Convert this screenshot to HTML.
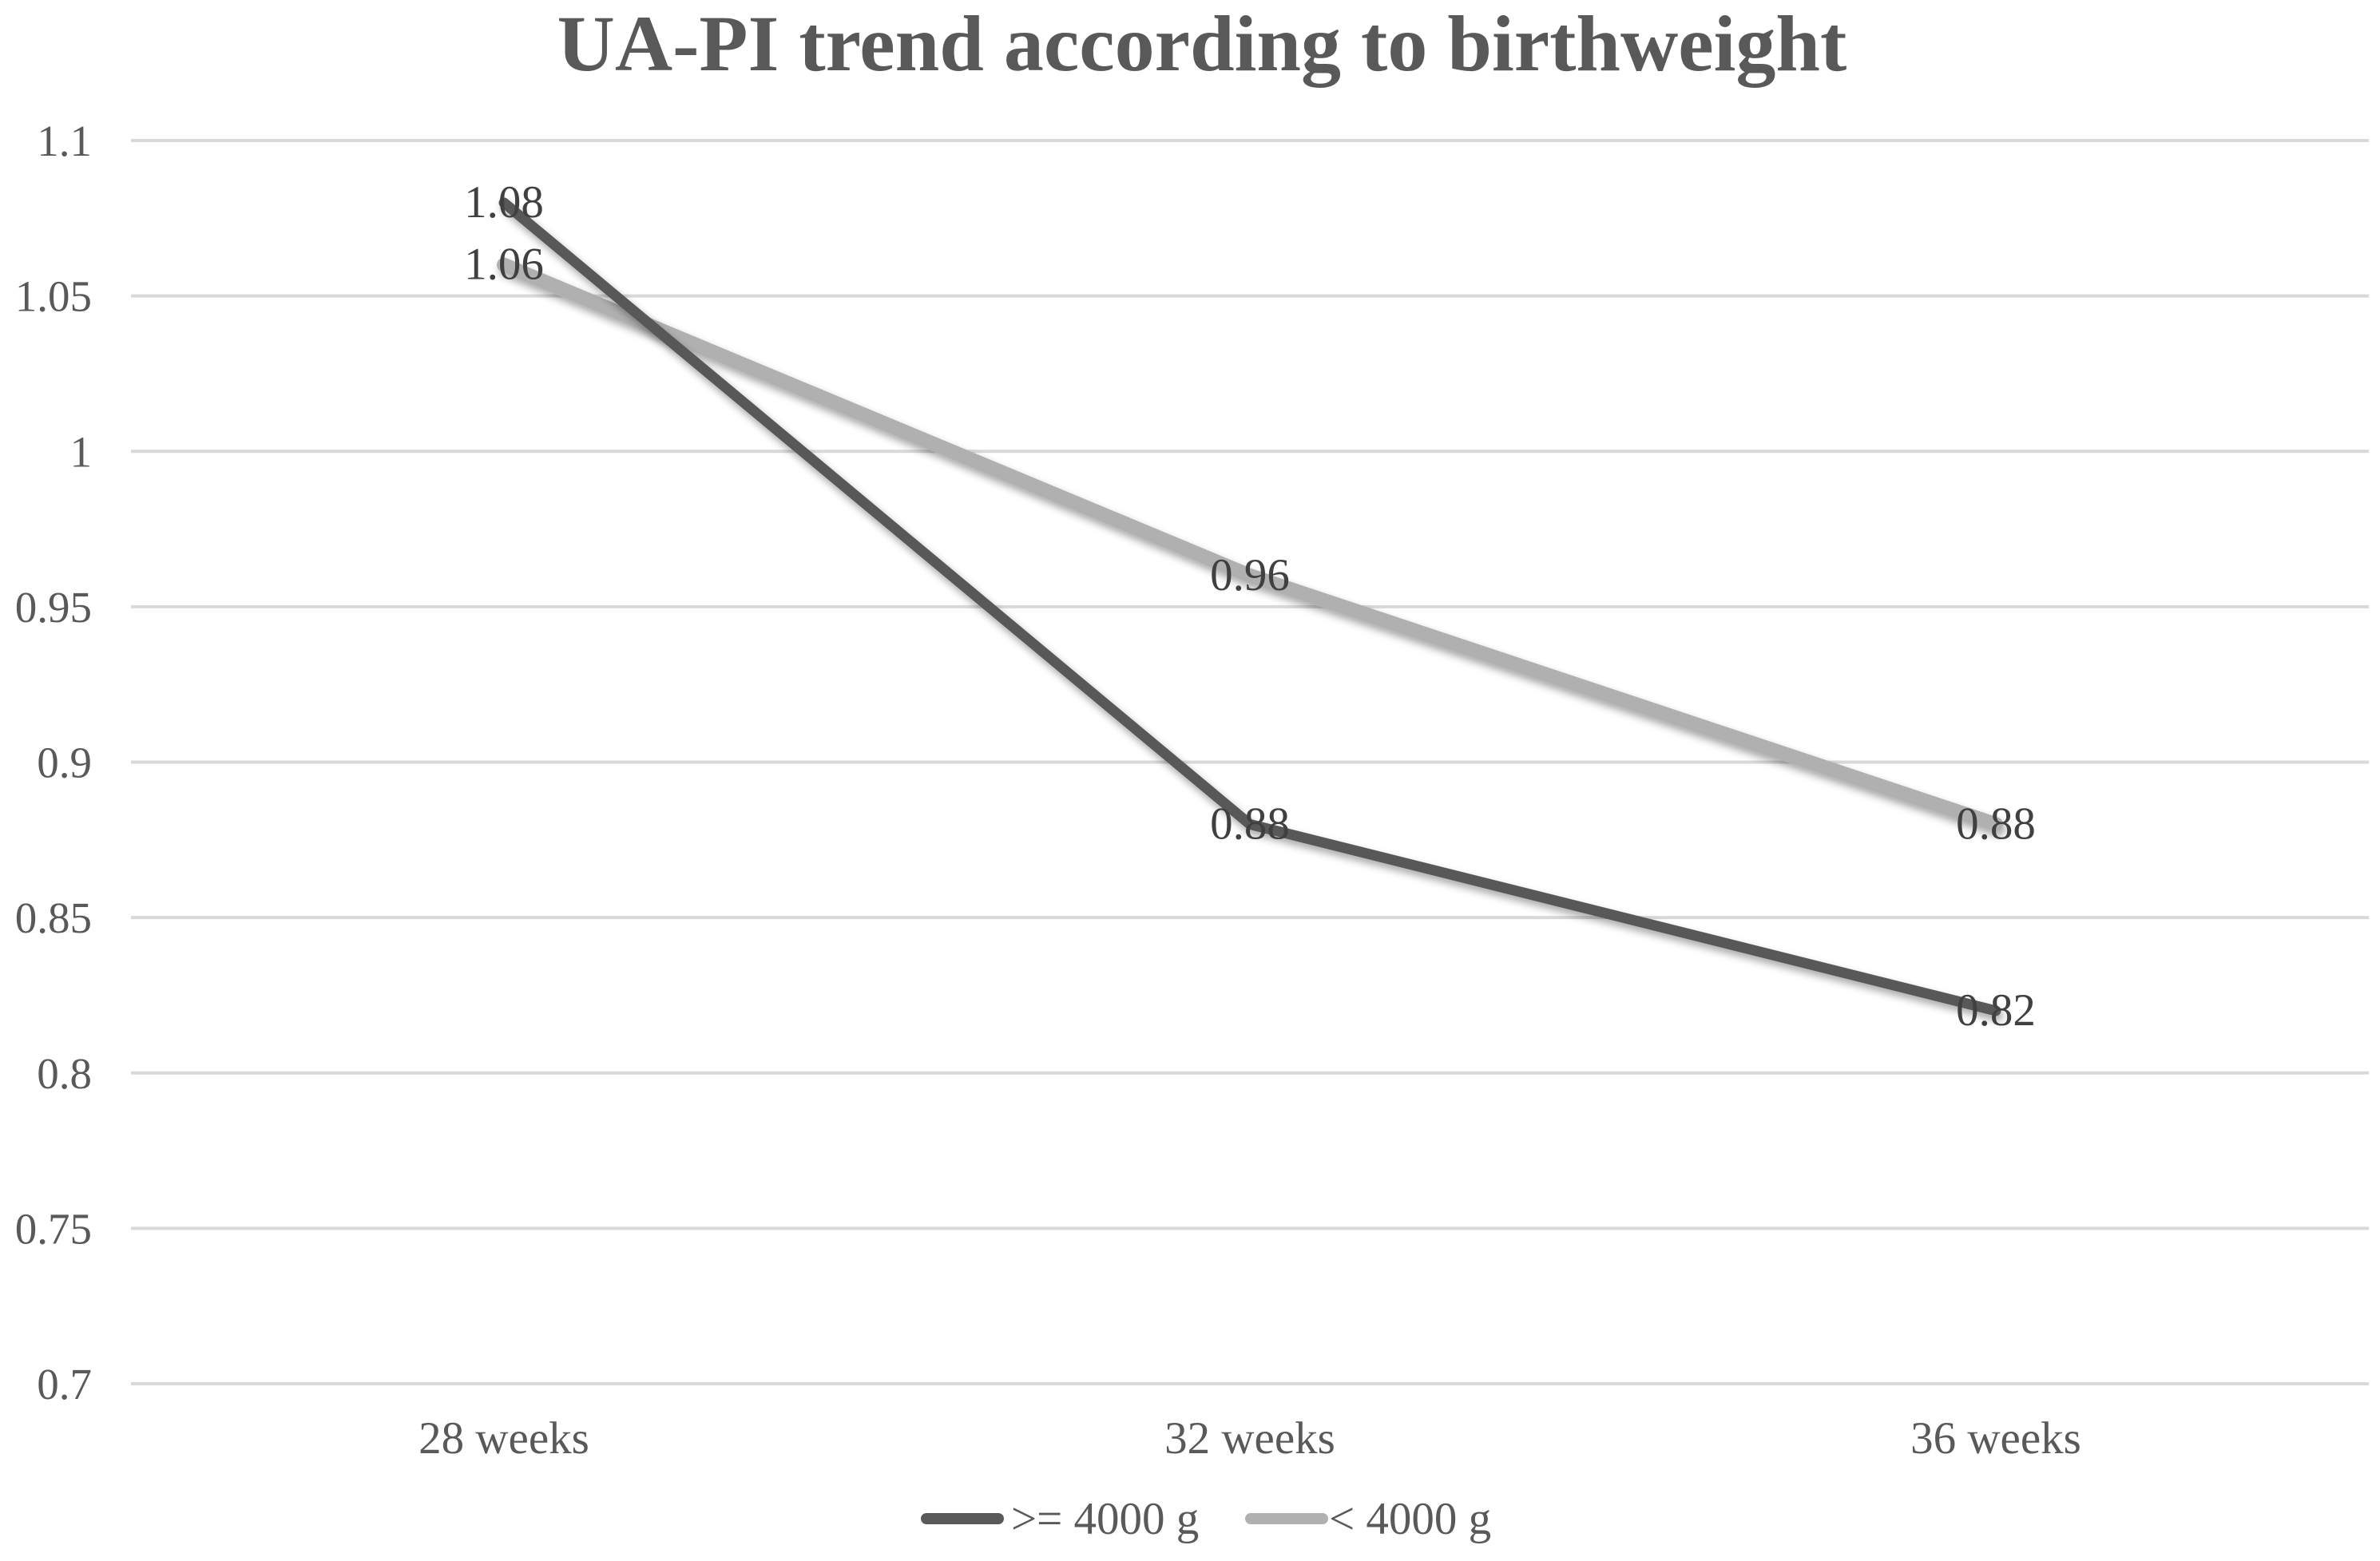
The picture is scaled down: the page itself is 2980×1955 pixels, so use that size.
<!DOCTYPE html>
<html><head><meta charset="utf-8"><style>
html,body{margin:0;padding:0;background:#fff;}
svg{display:block;font-family:"Liberation Serif",serif;}
</style></head><body>
<svg id="chart" width="2980" height="1955" viewBox="0 0 2980 1955" xmlns="http://www.w3.org/2000/svg">
<defs><filter id="sh" x="-10%" y="-10%" width="120%" height="130%"><feGaussianBlur in="SourceAlpha" stdDeviation="5"/><feOffset dx="3" dy="6"/><feComponentTransfer><feFuncA type="linear" slope="0.35"/></feComponentTransfer><feMerge><feMergeNode/><feMergeNode in="SourceGraphic"/></feMerge></filter></defs>
<text x="1505" y="88" text-anchor="middle" font-size="100" font-weight="bold" fill="#595959">UA-PI trend according to birthweight</text>
<g id="grid"></g><g id="yticks"></g><g id="xticks"></g><g id="series"></g><g id="labels"></g>
<g>
<line x1="1160" y1="1902" x2="1250" y2="1902" stroke="#595959" stroke-width="14" stroke-linecap="round"/>
<text x="1266" y="1921" font-size="57" fill="#595959">&gt;= 4000 g</text>
<line x1="1566" y1="1902" x2="1656" y2="1902" stroke="#b0b0b0" stroke-width="14" stroke-linecap="round"/>
<text x="1664" y="1921" font-size="57" fill="#595959">&lt; 4000 g</text>
</g>
</svg>
<script>
const categories = ["28 weeks","32 weeks","36 weeks"];
const heavyValues = [1.08, 0.88, 0.82];
const lightValues = [1.06, 0.96, 0.88];
const yTicks = [0.7,0.75,0.8,0.85,0.9,0.95,1,1.05,1.1];
const NS="http://www.w3.org/2000/svg";
const L=164,R=2966,T=176,B=1733,yMin=0.7,yMax=1.1;
const band=(R-L)/categories.length;
const xs=i=>L+band*(i+0.5);
const ys=v=>B-(v-yMin)/(yMax-yMin)*(B-T);
function mk(tag,attrs,parent){const e=document.createElementNS(NS,tag);for(const k in attrs)e.setAttribute(k,attrs[k]);document.getElementById(parent).appendChild(e);return e;}
yTicks.forEach(v=>{
  const g=mk('line',{x1:L,x2:R,y1:ys(v),y2:ys(v),stroke:'#d9d9d9','stroke-width':4},'grid');
  
  
  const t=mk('text',{x:115,y:ys(v)+19,'text-anchor':'end','font-size':55,fill:'#595959'},'yticks');
  t.textContent=String(v);
  
  
});
categories.forEach((c,i)=>{
  const t=mk('text',{x:xs(i),y:1820,'text-anchor':'middle','font-size':57,fill:'#595959'},'xticks');
  t.textContent=c;
  
  
});
function series(vals,color,w,name){
  const p=mk('polyline',{points:vals.map((v,i)=>xs(i)+','+ys(v)).join(' '),fill:'none',stroke:color,'stroke-width':w,'stroke-linejoin':'round','stroke-linecap':'round',filter:'url(#sh)'},'series');
  
  
}
series(lightValues,'#b0b0b0',18,'light-series');
series(heavyValues,'#595959',13,'heavy-series');
function labels(vals,name){
  vals.forEach((v,i)=>{
    const t=mk('text',{x:xs(i),y:ys(v)+18,'text-anchor':'middle','font-size':57,fill:'#404040'},'labels');
    t.textContent=String(v);
    
    
  });
}
labels(heavyValues,'heavy');
labels(lightValues,'light');
</script>
</body></html>
